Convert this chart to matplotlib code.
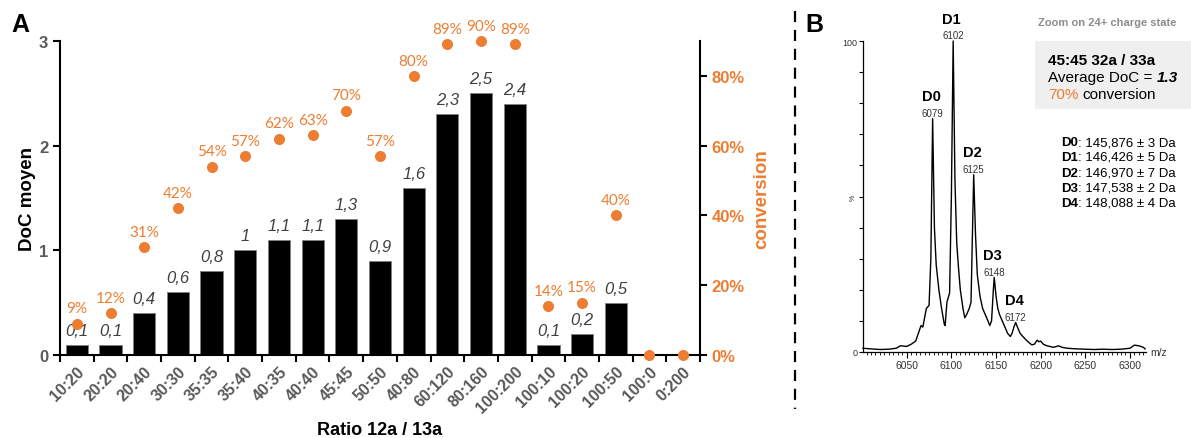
import matplotlib
matplotlib.use("Agg")
import matplotlib.pyplot as plt
import numpy as np
from matplotlib.lines import Line2D
from matplotlib.patches import Rectangle

plt.rcParams['font.family'] = ['Liberation Sans', 'DejaVu Sans']

ratios = ["10:20", "20:20", "20:40", "30:30", "35:35", "35:40", "40:35", "40:40",
          "45:45", "50:50", "40:80", "60:120", "80:160", "100:200", "100:10",
          "100:20", "100:50", "100:0", "0:200"]
doc = [0.1, 0.1, 0.4, 0.6, 0.8, 1, 1.1, 1.1, 1.3, 0.9, 1.6, 2.3, 2.5, 2.4,
       0.1, 0.2, 0.5, 0, 0]
conversion = [9, 12, 31, 42, 54, 57, 62, 63, 70, 57, 80, 89, 90, 89, 14, 15, 40, 0, 0]

# spectrum (zoom on 24+ charge state)
mz = [6001, 6010, 6020, 6030, 6038, 6043, 6050, 6055, 6060, 6063, 6066, 6068,
      6070, 6072, 6075, 6077, 6079, 6081, 6083, 6086, 6089, 6092, 6093, 6095,
      6097, 6098, 6100, 6102, 6104, 6106, 6108, 6110, 6113, 6115, 6117, 6120,
      6122, 6123, 6125, 6127, 6129, 6132, 6135, 6138, 6141, 6143, 6145, 6147,
      6148, 6150, 6152, 6154, 6157, 6160, 6163, 6166, 6168, 6170, 6172, 6174,
      6177, 6180, 6184, 6187, 6190, 6193, 6196, 6198, 6200, 6203, 6207, 6210,
      6214, 6218, 6220, 6224, 6230, 6240, 6250, 6260, 6270, 6280, 6290, 6300,
      6305, 6310, 6315, 6317]
intensity = [1.2, 1.0, 0.8, 0.9, 1.2, 2.0, 1.8, 2.5, 3.5, 6, 8.5, 8, 11, 14, 15,
             30, 75, 40, 28, 20, 14, 9, 8.5, 16, 18, 19, 50, 100, 55, 35, 27, 20,
             14, 11, 12, 14, 16, 30, 57, 38, 25, 18, 14, 12, 10, 8.5, 10, 20, 24,
             18, 14, 12, 10, 8, 6, 5, 6, 8, 9.5, 8, 6, 5, 3.8, 3, 2.3, 2.5, 3.8,
             3.3, 3.5, 2.5, 2, 1.8, 1.5, 1.8, 2.0, 1.5, 1.2, 1.0, 0.9, 0.8, 0.9,
             0.8, 0.9, 1.2, 2.2, 2.0, 1.5, 1.0]
peaks = ["D0", "D1", "D2", "D3", "D4"]
peak_mz = [6079, 6102, 6125, 6148, 6172]
peak_int = [75, 100, 57, 24, 9.5]
masses = ["145,876 ± 3 Da", "146,426 ± 5 Da", "146,970 ± 7 Da",
          "147,538 ± 2 Da", "148,088 ± 4 Da"]

ORANGE = '#ED7D31'
W, H = 1191, 439


def fx(px):
    return px / W


def fy(py):
    return 1 - py / H


fig = plt.figure(figsize=(W / 100, H / 100), dpi=100)

# ---------------- panel A ----------------
ax = fig.add_axes([fx(60), fy(356), fx(700) - fx(60), fy(42) - fy(356)])
x = np.arange(len(ratios))
ax.bar(x, doc, width=0.66, color='black', edgecolor='#808080', linewidth=0.6, zorder=2)
for xi, v in zip(x, doc):
    if v > 0:
        ax.annotate(f"{v:g}".replace('.', ','), (xi, v), xytext=(0, 5),
                    textcoords='offset points', ha='center', va='bottom',
                    fontsize=12, style='italic', color='#404040')
ax.set_xlim(-0.5, len(ratios) - 0.5)
ax.set_ylim(0, 3)
ax.set_yticks([0, 1, 2, 3])
ax.set_yticklabels(['0', '1', '2', '3'], fontsize=12, fontweight='bold', color='#595959')
ax.set_xticks(x)
ax.set_xticklabels(ratios, rotation=45, ha='right', rotation_mode='anchor',
                   fontsize=11.5, fontweight='bold', color='#595959')
ax.tick_params(axis='x', which='major', length=0, pad=6)
ax.set_xticks(np.arange(len(ratios) + 1) - 0.5, minor=True)
ax.tick_params(axis='x', which='minor', length=5, width=1.5, direction='out')
ax.tick_params(axis='y', length=5, width=1.5)
for s in ['top', 'right']:
    ax.spines[s].set_visible(False)
for s in ['left', 'bottom']:
    ax.spines[s].set_linewidth(1.5)
ax.set_ylabel("DoC moyen", fontsize=13.5, fontweight='bold', labelpad=2)
ax.set_xlabel("Ratio 12a / 13a", fontsize=13, fontweight='bold', labelpad=4)

ax2 = ax.twinx()
ax2.scatter(x, conversion, s=48, color=ORANGE, zorder=3, clip_on=False)
for xi, c in zip(x, conversion):
    if c > 0:
        ax2.annotate(f"{c}%", (xi, c), xytext=(0, 6), textcoords='offset points',
                     ha='center', va='bottom', fontsize=11, color=ORANGE,
                     family=['Lato', 'DejaVu Sans'])
ax2.set_ylim(0, 90)
ax2.set_yticks([0, 20, 40, 60, 80])
ax2.set_yticklabels(['0%', '20%', '40%', '60%', '80%'], fontsize=12,
                    fontweight='bold', color=ORANGE)
ax2.tick_params(axis='y', length=5, width=1.5)
for s in ['top', 'left', 'bottom']:
    ax2.spines[s].set_visible(False)
ax2.spines['right'].set_linewidth(1.5)
ax2.set_ylabel("conversion", fontsize=13.5, fontweight='bold', color=ORANGE, labelpad=6)

fig.text(fx(11), fy(25), "A", fontsize=18, fontweight='bold', va='center', ha='left')

# dashed separator
fig.add_artist(Line2D([fx(795), fx(795)], [fy(12), fy(410)], color='black',
                      linewidth=1.6, linestyle=(0, (5, 3.5))))

# ---------------- panel B ----------------
fig.text(fx(805), fy(25), "B", fontsize=18, fontweight='bold', va='center', ha='left')
box = Rectangle((fx(1035), fy(110)), fx(1191) - fx(1035), fy(42) - fy(110),
                transform=fig.transFigure, facecolor='#efefef', edgecolor='none', zorder=-1)
fig.add_artist(box)
bx = fig.add_axes([fx(863), fy(353), fx(1146) - fx(863), fy(42) - fy(353)])
bx.patch.set_visible(False)
bx.plot(mz, intensity, color='black', linewidth=1.0, clip_on=False)
bx.set_xlim(6001, 6318)
bx.set_ylim(0, 100)
bx.set_xticks([6050, 6100, 6150, 6200, 6250, 6300])
bx.set_xticklabels(['6050', '6100', '6150', '6200', '6250', '6300'], fontsize=7.5, color='#333333')
bx.set_xticks(np.arange(6005, 6320, 5), minor=True)
bx.tick_params(axis='x', which='major', length=4, width=0.8, pad=2)
bx.tick_params(axis='x', which='minor', length=2.5, width=0.6)
bx.set_yticks(np.arange(0, 101, 10))
bx.set_yticklabels(['0'] + [''] * 9 + ['100'], fontsize=6.5, color='#333333')
bx.tick_params(axis='y', length=3, width=0.8, pad=1)
for s in ['top', 'right']:
    bx.spines[s].set_visible(False)
for s in ['left', 'bottom']:
    bx.spines[s].set_linewidth(0.9)
bx.text(-0.035, 0.5, "%", transform=bx.transAxes, rotation=90, fontsize=5,
        ha='center', va='center', color='#333333')
bx.text(1.015, 0, "m/z", transform=bx.transAxes, fontsize=7.5, ha='left',
        va='center', color='#333333')
for name, pm, pi in zip(peaks, peak_mz, peak_int):
    bx.annotate(pm, (pm, pi), xytext=(0, 0.5), textcoords='offset points',
                ha='center', va='bottom', fontsize=7, color='#333333',
                annotation_clip=False)
    bx.annotate(name, (pm, pi), xytext=(-1, 11), textcoords='offset points',
                ha='center', va='bottom', fontsize=10.5, fontweight='bold',
                annotation_clip=False)

fig.text(fx(1176), fy(23), "Zoom on 24+ charge state", fontsize=8, fontweight='bold',
         color='#8c8c8c', ha='right', va='center')
fig.text(fx(1048), fy(61), "45:45 32a / 33a", fontsize=11, fontweight='bold',
         ha='left', va='center')
t1 = fig.text(fx(1048), fy(78), "Average DoC =", fontsize=11, ha='left', va='center')
bx.annotate("1.3", xy=(1, 0.5), xycoords=t1, xytext=(3, 0), textcoords='offset points',
            fontsize=11, fontweight='bold', style='italic', ha='left', va='center',
            annotation_clip=False)
t2 = fig.text(fx(1048), fy(95), "70%", fontsize=11, color=ORANGE, ha='left', va='center')
bx.annotate("conversion", xy=(1, 0.5), xycoords=t2, xytext=(3, 0), textcoords='offset points',
            fontsize=11, ha='left', va='center', annotation_clip=False)

mass_y = [143, 158, 174, 189, 204]
for name, m, my in zip(peaks, masses, mass_y):
    tm = fig.text(fx(1176), fy(my), ": " + m, fontsize=9.5, ha='right', va='center')
    bx.annotate(name, xy=(0, 0.5), xycoords=tm, fontsize=9.5, fontweight='bold',
                ha='right', va='center', annotation_clip=False)

fig.savefig("out.png", dpi=100)
